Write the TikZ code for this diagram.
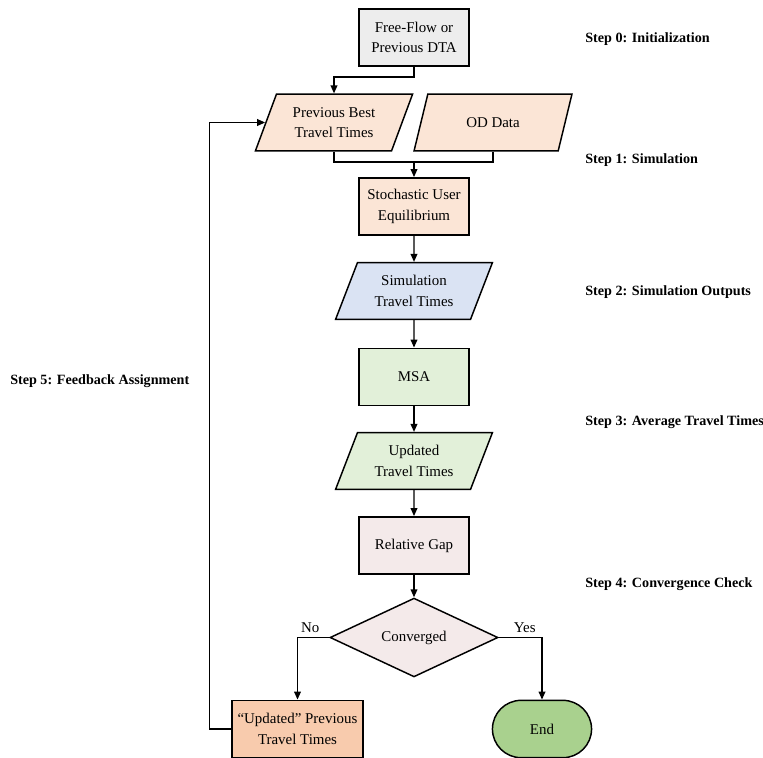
\documentclass[tikz,border=0pt]{standalone}
\usepackage{fontspec}
\setmainfont{Liberation Serif}
\usetikzlibrary{shapes.geometric,shapes.misc,arrows.meta}

\definecolor{grayfill}{HTML}{EDEDED}
\definecolor{peach}{HTML}{FBE5D6}
\definecolor{bluefill}{HTML}{DAE3F3}
\definecolor{greenfill}{HTML}{E2F0D9}
\definecolor{pinkfill}{HTML}{F4EAEA}
\definecolor{orangefill}{HTML}{F8CBAD}
\definecolor{endgreen}{HTML}{A9D18E}

\tikzset{
  box/.style={draw, line width=1.1pt, minimum width=82.5pt, minimum height=43pt,
    align=center, inner sep=2pt, font=\fontsize{11.2}{15.5}\selectfont},
  io/.style={draw, line width=1.1pt, trapezium, trapezium left angle=65,
    trapezium right angle=115, trapezium stretches=true, minimum width=118.5pt,
    minimum height=42.5pt, align=center, inner sep=1pt, font=\fontsize{11.2}{15.5}\selectfont},
  arr/.style={line width=1.1pt, -{Triangle[length=6pt,width=5pt]}},
  ln/.style={line width=1.1pt},
  steplbl/.style={anchor=west, inner sep=0pt, font=\fontsize{10.6}{13}\selectfont\bfseries}
}

\begin{document}
\begin{tikzpicture}[x=0.75pt,y=-0.75pt]
\useasboundingbox (0,0) rectangle (763,757);
% nodes
\node[box, fill=grayfill] (ff) at (414,37.5) {Free-Flow or\\Previous DTA};
\node[io, fill=peach] (prev) at (334,122.5) {Previous Best\\Travel Times};
\node[io, fill=peach] (od) at (493,122.5) {OD Data};
\node[box, fill=peach] (sue) at (414,206.5) {Stochastic User\\Equilibrium};
\node[io, fill=bluefill] (sim) at (414,291) {Simulation\\Travel Times};
\node[box, fill=greenfill] (msa) at (414,377) {MSA};
\node[io, fill=greenfill] (utt) at (414,461) {Updated\\Travel Times};
\node[box, fill=pinkfill] (gap) at (414,545.5) {Relative Gap};
\node[draw, line width=1.1pt, diamond, fill=pinkfill, minimum width=126pt,
  minimum height=53pt, inner sep=0pt, font=\fontsize{11.2}{15.5}\selectfont] (conv) at (414,637.5) {Converged};
\node[box, fill=orangefill, minimum width=98pt] (upd) at (297.5,729) {``Updated'' Previous\\Travel Times};
\node[draw, line width=1.1pt, rounded rectangle, fill=endgreen, minimum width=81pt,
  minimum height=43pt, font=\fontsize{11.2}{15.5}\selectfont] (end) at (542,729) {End};
\coordinate (mrg) at (414,162);
% step labels
\foreach \i/\y/\t in {0/39/Initialization, 1/160/Simulation, 2/292/Simulation Outputs,
  3/422/Average Travel Times, 4/584/Convergence Check}
  \node[steplbl] (s\i) at (585,\y) {Step \i: \t};
\node[steplbl] (s5) at (10,381) {Step 5: Feedback Assignment};
% connectors
\draw[arr] (ff.south) -- ++(0,10) -| (prev.center |- prev.north);
\draw[ln] (prev.center |- prev.south) |- (mrg) -| (od.center |- od.south);
\draw[arr] (mrg) -- (sue);
\draw[arr] (sue) -- (sim);
\draw[arr] (sim) -- (msa);
\draw[arr] (msa) -- (utt);
\draw[arr] (utt) -- (gap);
\draw[arr] (gap) -- (conv);
\draw[arr] (conv.west) -| node[pos=0.3, above, font=\fontsize{11.2}{13}\selectfont] {No} (upd.north);
\draw[arr] (conv.east) -| node[pos=0.3, above, font=\fontsize{11.2}{13}\selectfont] {Yes} (end.north);
\draw[arr] (upd.west) -- ++(-22,0) |- (prev.west);
\end{tikzpicture}
\end{document}
